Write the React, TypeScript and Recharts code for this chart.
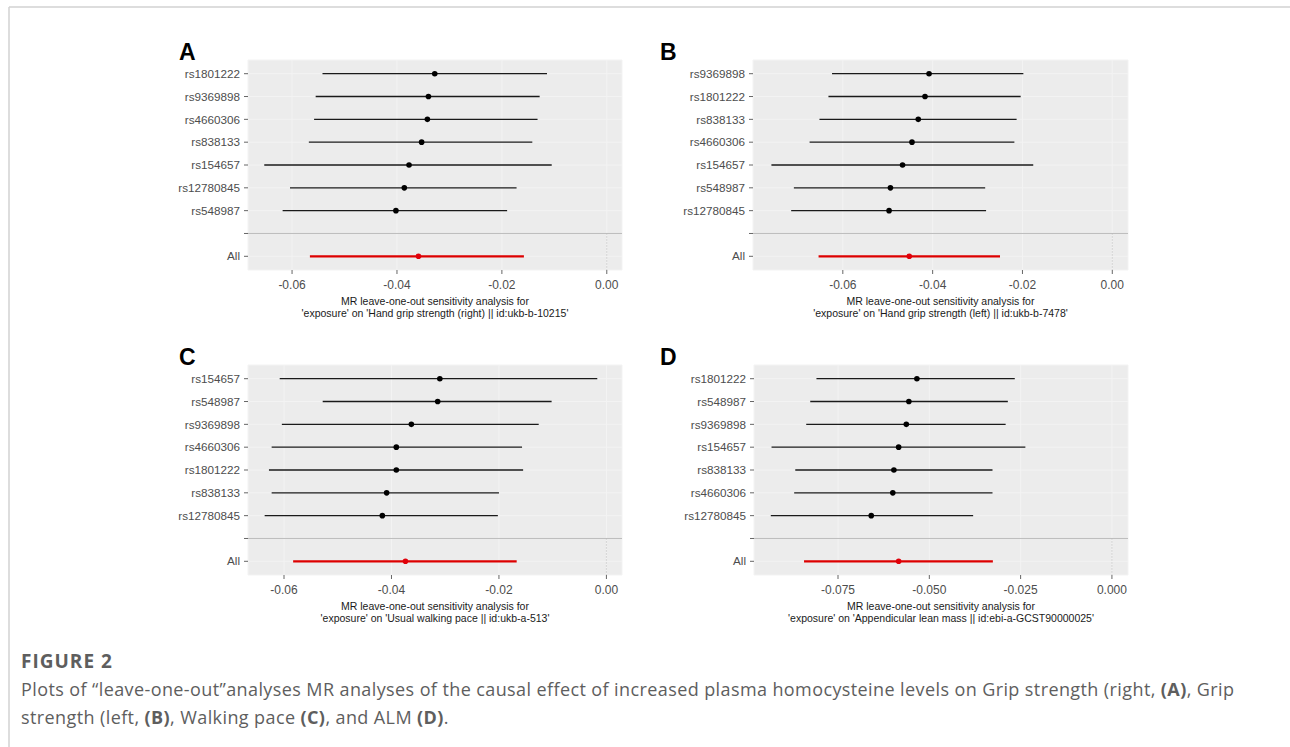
import React from "react"
import { CartesianGrid, ErrorBar, ReferenceLine, Scatter, ScatterChart, XAxis, YAxis } from "recharts"

// panel A: hand grip strength (right)
const snpsA = ["rs1801222", "rs9369898", "rs4660306", "rs838133", "rs154657", "rs12780845", "rs548987"]
const betaA = [-0.0328, -0.034, -0.0342, -0.0353, -0.0377, -0.0386, -0.0402]
const lowerA = [-0.0542, -0.0555, -0.0558, -0.0568, -0.0653, -0.0604, -0.0618]
const upperA = [-0.0114, -0.0128, -0.0132, -0.0142, -0.0105, -0.0172, -0.019]
const overallA = [-0.0359, -0.0566, -0.0158] // beta, lower, upper

// panel B: hand grip strength (left)
const snpsB = ["rs9369898", "rs1801222", "rs838133", "rs4660306", "rs154657", "rs548987", "rs12780845"]
const betaB = [-0.0408, -0.0417, -0.0432, -0.0446, -0.0467, -0.0494, -0.0497]
const lowerB = [-0.0624, -0.0632, -0.0652, -0.0674, -0.0759, -0.0709, -0.0715]
const upperB = [-0.0198, -0.0204, -0.0213, -0.0218, -0.0176, -0.0283, -0.0281]
const overallB = [-0.0452, -0.0654, -0.025]

// panel C: usual walking pace
const snpsC = ["rs154657", "rs548987", "rs9369898", "rs4660306", "rs1801222", "rs838133", "rs12780845"]
const betaC = [-0.031, -0.0314, -0.0363, -0.0391, -0.0391, -0.0409, -0.0417]
const lowerC = [-0.0608, -0.0528, -0.0604, -0.0623, -0.0628, -0.0623, -0.0636]
const upperC = [-0.0017, -0.0102, -0.0126, -0.0157, -0.0155, -0.02, -0.0202]
const overallC = [-0.0374, -0.0583, -0.0167]

// panel D: appendicular lean mass
const snpsD = ["rs1801222", "rs548987", "rs9369898", "rs154657", "rs838133", "rs4660306", "rs12780845"]
const betaD = [-0.0534, -0.0556, -0.0563, -0.0584, -0.0597, -0.06, -0.0659]
const lowerD = [-0.0809, -0.0826, -0.0837, -0.0932, -0.0867, -0.087, -0.0934]
const upperD = [-0.0266, -0.0285, -0.0291, -0.0237, -0.0327, -0.0327, -0.038]
const overallD = [-0.0584, -0.0843, -0.0326]

const ticks2 = [-0.06, -0.04, -0.02, 0]
const ticksD = [-0.075, -0.05, -0.025, 0]

const FONT = "'Liberation Sans', Arial, Helvetica, sans-serif"
const TITLE1 = "MR leave-one-out sensitivity analysis for"

const dot = (color: string) => (p: any) => <circle cx={p.cx} cy={p.cy} r={2.8} fill={color} />

interface PanelProps {
  snps: string[]
  beta: number[]
  lower: number[]
  upper: number[]
  overall: number[]
  domain: [number, number]
  ticks: number[]
  digits: number
  yWidth: number
  left: number
  top: number
  width: number
  right: number
  letter: string
  letterX: number
  title: string
}

function Panel({ snps, beta, lower, upper, overall, domain, ticks, digits, yWidth, left, top, width, right, letter, letterX, title }: PanelProps) {
  const labels = [...snps, "", "All"]
  const rows = snps.map((s, i) => ({ snp: s, row: i, b: beta[i], err: [beta[i] - lower[i], upper[i] - beta[i]] }))
  const allRow = [{ snp: "All", row: labels.length - 1, b: overall[0], err: [overall[0] - overall[1], overall[2] - overall[0]] }]
  const yTicks = labels.map((_, i) => i)
  const plotW = width - yWidth - right
  const cx = yWidth + plotW / 2

  return (
    <div style={{ position: "absolute", left, top, width, height: 300 }}>
      <ScatterChart width={width} height={260} margin={{ top: 20, right, bottom: 0, left: 0 }}>
        <CartesianGrid fill="#ececec" stroke="#f3f3f3" strokeWidth={1} />
        <XAxis
          type="number"
          dataKey="b"
          domain={domain}
          ticks={ticks}
          allowDataOverflow
          interval={0}
          height={30}
          axisLine={false}
          tickSize={4}
          tickMargin={6}
          tickLine={{ stroke: "#666" }}
          tick={{ fill: "#4d4d4d", fontSize: 12, fontFamily: FONT }}
          tickFormatter={(v: number) => v.toFixed(digits)}
        />
        <YAxis
          type="number"
          dataKey="row"
          domain={[-0.6, labels.length - 0.4]}
          reversed
          ticks={yTicks}
          interval={0}
          width={yWidth}
          axisLine={false}
          tickSize={4}
          tickMargin={4}
          tickLine={{ stroke: "#666" }}
          tick={{ fill: "#4d4d4d", fontSize: 11.7, fontFamily: FONT }}
          tickFormatter={(v: number) => labels[v] ?? ""}
        />
        <ReferenceLine y={snps.length} stroke="#bdbdbd" strokeWidth={1} />
        <ReferenceLine
          segment={[{ x: 0, y: snps.length }, { x: 0, y: labels.length - 0.4 }]}
          stroke="#b8b8b8"
          strokeDasharray="1 2"
        />
        <Scatter data={rows} isAnimationActive={false} shape={dot("#000")}>
          <ErrorBar dataKey="err" direction="x" width={0} stroke="#1a1a1a" strokeWidth={1.3} isAnimationActive={false} />
        </Scatter>
        <Scatter data={allRow} isAnimationActive={false} shape={dot("#e0000a")}>
          <ErrorBar dataKey="err" direction="x" width={0} stroke="#dd0000" strokeWidth={2.2} isAnimationActive={false} />
        </Scatter>
      </ScatterChart>
      <svg width={width} height={300} style={{ position: "absolute", left: 0, top: 0, pointerEvents: "none" }}>
        <text x={letterX} y={20} fontFamily={FONT} fontWeight="bold" fontSize={23} fill="#000">
          {letter}
        </text>
        <text x={cx} y={265} textAnchor="middle" fontFamily={FONT} fontSize={10.5} fill="#1a1a1a">
          {TITLE1}
        </text>
        <text x={cx} y={277} textAnchor="middle" fontFamily={FONT} fontSize={10.5} fill="#1a1a1a">
          {title}
        </text>
      </svg>
    </div>
  )
}

export default function App() {
  return (
    <div style={{ position: "absolute", left: 0, top: 0, width: 1290, height: 747, background: "#fff", overflow: "hidden" }}>
      <svg width={1290} height={747} style={{ position: "absolute", left: 0, top: 0 }}>
        <line x1={9} y1={7} x2={1290} y2={7} stroke="#d2d2d2" strokeWidth={1.5} />
        <line x1={9} y1={7} x2={9} y2={747} stroke="#d2d2d2" strokeWidth={1.5} />
      </svg>
      <Panel
        snps={snpsA} beta={betaA} lower={lowerA} upper={upperA} overall={overallA}
        domain={[-0.0684, 0.0029]} ticks={ticks2} digits={2}
        left={140} top={40} width={500} yWidth={108} right={18}
        letter="A" letterX={39}
        title="'exposure' on 'Hand grip strength (right) || id:ukb-b-10215'"
      />
      <Panel
        snps={snpsB} beta={betaB} lower={lowerB} upper={upperB} overall={overallB}
        domain={[-0.08, 0.0035]} ticks={ticks2} digits={2}
        left={660} top={40} width={490} yWidth={93} right={22}
        letter="B" letterX={0}
        title="'exposure' on 'Hand grip strength (left) || id:ukb-b-7478'"
      />
      <Panel
        snps={snpsC} beta={betaC} lower={lowerC} upper={upperC} overall={overallC}
        domain={[-0.0667, 0.0029]} ticks={ticks2} digits={2}
        left={140} top={345} width={500} yWidth={108} right={18}
        letter="C" letterX={39}
        title="'exposure' on 'Usual walking pace || id:ukb-a-513'"
      />
      <Panel
        snps={snpsD} beta={betaD} lower={lowerD} upper={upperD} overall={overallD}
        domain={[-0.098, 0.0044]} ticks={ticksD} digits={3}
        left={660} top={345} width={490} yWidth={94} right={22}
        letter="D" letterX={0}
        title="'exposure' on 'Appendicular lean mass || id:ebi-a-GCST90000025'"
      />
      <div style={{ position: "absolute", left: 21, top: 647, width: 1265, fontFamily: "'Open Sans', sans-serif", color: "#5e5e5e", fontSize: 18, letterSpacing: "0.4px", lineHeight: "28px", whiteSpace: "nowrap" }}>
        <div style={{ fontWeight: 700, fontSize: 19, letterSpacing: "1px" }}>FIGURE 2</div>
        <div>
          Plots of “leave-one-out”analyses MR analyses of the causal effect of increased plasma homocysteine levels on Grip strength (right, <b>(A)</b>, Grip
        </div>
        <div>
          strength (left, <b>(B)</b>, Walking pace <b>(C)</b>, and ALM <b>(D)</b>.
        </div>
      </div>
    </div>
  )
}
